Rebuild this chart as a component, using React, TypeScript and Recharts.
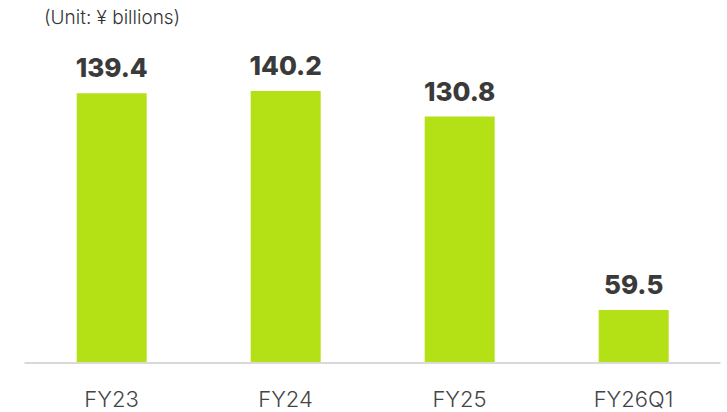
import React from "react";
import { BarChart, Bar, XAxis, YAxis, LabelList } from "recharts";

const categories = ["FY23", "FY24", "FY25", "FY26Q1"];
const values = [139.4, 140.2, 130.8, 59.5];
const unitLabel = "(Unit: ¥ billions)";

const data = categories.map((name, i) => ({ name, value: values[i] }));

const FONT = "Inter, 'DejaVu Sans', sans-serif";

export default function App() {
  return (
    <div
      style={{
        position: "absolute",
        left: 0,
        top: 0,
        width: 727,
        height: 412,
        background: "#fff",
        fontFamily: FONT,
      }}
    >
      <div
        style={{
          position: "absolute",
          left: 44,
          top: 8,
          fontSize: 19,
          fontWeight: 300,
          color: "#333",
          lineHeight: "20px",
        }}
      >
        {unitLabel}
      </div>
      <BarChart
        width={727}
        height={412}
        data={data}
        margin={{ top: 64.5, right: 6.5, bottom: 0, left: 24.5 }}
        barCategoryGap="30%"
      >
        <YAxis hide domain={[40, 150]} />
        <XAxis
          dataKey="name"
          height={49}
          tickLine={false}
          axisLine={{ stroke: "#d9d9d9", strokeWidth: 2 }}
          interval={0}
          tick={({ x, payload }: any) => (
            <text
              x={x}
              y={407}
              textAnchor="middle"
              fontSize={22}
              fontWeight={300}
              fill="#444"
              fontFamily={FONT}
            >
              {payload.value}
            </text>
          )}
        />
        <Bar dataKey="value" fill="#B4E016" isAnimationActive={false}>
          <LabelList
            dataKey="value"
            position="top"
            offset={16}
            fontSize={26}
            fontWeight={800}
            fill="#3a3a3a"
            fontFamily={FONT}
            formatter={(v: any) => Number(v).toFixed(1)}
          />
        </Bar>
      </BarChart>
    </div>
  );
}
